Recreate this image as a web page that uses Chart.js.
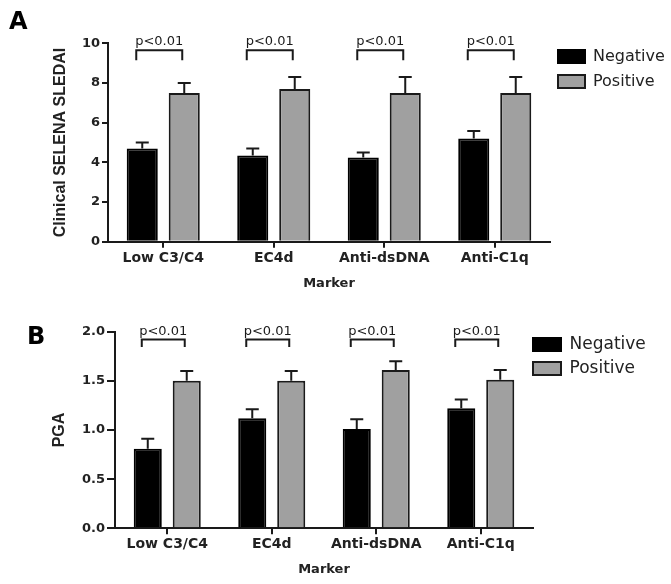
<!DOCTYPE html>
<html>
<head>
<meta charset="utf-8">
<script src="https://cdn.jsdelivr.net/npm/chart.js@4.4.0/dist/chart.umd.min.js"></script>
<style>
  body { margin: 0; background: #fff; }
  .panel { position: absolute; left: 0; width: 671px; height: 292px; }
  #panelA { top: 0; }
  #panelB { top: 292px; }
</style>
</head>
<body>
<div class="panel" id="panelA"><canvas id="chartA"></canvas></div>
<div class="panel" id="panelB"><canvas id="chartB"></canvas></div>
<script>
const markers = ['Low C3/C4', 'EC4d', 'Anti-dsDNA', 'Anti-C1q'];
const seriesNames = ['Negative', 'Positive'];
const pValues = ['p<0.01', 'p<0.01', 'p<0.01', 'p<0.01'];

// Panel A - clinical SELENA SLEDAI, mean + SEM
const sledaiNegative = [4.7, 4.35, 4.25, 5.2];
const sledaiNegativeErr = [0.3, 0.35, 0.25, 0.38];
const sledaiPositive = [7.5, 7.7, 7.5, 7.5];
const sledaiPositiveErr = [0.5, 0.6, 0.8, 0.8];
const sledaiTicks = [0, 2, 4, 6, 8, 10];

// Panel B - PGA, mean + SEM
const pgaNegative = [0.81, 1.12, 1.01, 1.22];
const pgaNegativeErr = [0.1, 0.09, 0.1, 0.09];
const pgaPositive = [1.5, 1.5, 1.61, 1.51];
const pgaPositiveErr = [0.1, 0.1, 0.09, 0.1];
const pgaTicks = [0, 0.5, 1.0, 1.5, 2.0];

const INK = '#1a1a1a';

// upper error bars only, like the prism plot
const errorBars = {
  id: 'errorBars',
  afterDatasetsDraw(chart, args, opts) {
    const ctx = chart.ctx;
    const y = chart.scales.y;
    ctx.save();
    ctx.strokeStyle = INK;
    ctx.lineWidth = 2;
    chart.data.datasets.forEach((ds, d) => {
      chart.getDatasetMeta(d).data.forEach((bar, i) => {
        const top = y.getPixelForValue(ds.data[i] + ds.errors[i]);
        ctx.beginPath();
        ctx.moveTo(bar.x, bar.y);
        ctx.lineTo(bar.x, top);
        ctx.moveTo(bar.x - opts.cap / 2, top);
        ctx.lineTo(bar.x + opts.cap / 2, top);
        ctx.stroke();
      });
    });
    ctx.restore();
  }
};

// significance brackets over each pair
const brackets = {
  id: 'brackets',
  afterDraw(chart, args, opts) {
    const ctx = chart.ctx;
    const y = chart.scales.y;
    const neg = chart.getDatasetMeta(0).data;
    const pos = chart.getDatasetMeta(1).data;
    const yb = y.getPixelForValue(opts.level);
    const yl = y.getPixelForValue(opts.leg);
    ctx.save();
    ctx.strokeStyle = INK;
    ctx.fillStyle = INK;
    ctx.lineWidth = 2;
    ctx.font = '13px "DejaVu Sans"';
    ctx.textAlign = 'center';
    ctx.textBaseline = 'alphabetic';
    pValues.forEach((t, i) => {
      const x1 = neg[i].x - 6, x2 = pos[i].x - 2;
      ctx.beginPath();
      ctx.moveTo(x1, yl);
      ctx.lineTo(x1, yb);
      ctx.lineTo(x2, yb);
      ctx.lineTo(x2, yl);
      ctx.stroke();
      ctx.fillText(t, (x1 + x2) / 2, yb - 5);
    });
    ctx.restore();
  }
};

const panelLetter = {
  id: 'panelLetter',
  afterDraw(chart, args, opts) {
    const ctx = chart.ctx;
    ctx.save();
    ctx.fillStyle = '#000';
    ctx.font = 'bold 24px "DejaVu Sans"';
    ctx.textBaseline = 'alphabetic';
    ctx.fillText(opts.text, opts.x, opts.y);
    ctx.restore();
  }
};

// nudge the legend block into place, and widen its clip box to the canvas edge
const legendShift = {
  id: 'legendShift',
  afterLayout(chart, args, opts) {
    const l = chart.legend;
    l.left += opts.dx;
    l.right = chart.width;
    l.width = l.right - l.left;
    l.top += opts.dy; l.bottom += opts.dy;
  }
};

function makePanel(id, p) {
  return new Chart(document.getElementById(id), {
    type: 'bar',
    data: {
      labels: markers,
      datasets: [
        { label: seriesNames[0], data: p.neg, errors: p.negErr, backgroundColor: '#000', borderColor: '#000', borderWidth: 2 },
        { label: seriesNames[1], data: p.pos, errors: p.posErr, backgroundColor: '#a0a0a0', borderColor: INK, borderWidth: 2 }
      ]
    },
    plugins: [errorBars, brackets, panelLetter, legendShift],
    options: {
      responsive: true,
      maintainAspectRatio: false,
      animation: false,
      categoryPercentage: p.cp,
      barPercentage: p.bp,
      layout: { padding: { top: p.top, right: p.padR, bottom: 0, left: 0 } },
      scales: {
        x: {
          grid: { offset: false, drawOnChartArea: false, tickLength: 6, color: INK, lineWidth: 2 },
          border: { color: INK, width: 2 },
          ticks: { color: '#222', padding: 2, font: { family: 'DejaVu Sans', weight: 'bold', size: 14 } },
          title: {
            display: true, text: 'Marker', color: '#222',
            font: { family: 'DejaVu Sans', weight: 'bold', size: 13 },
            padding: { top: 0, bottom: p.xTitlePad }
          },
          afterFit: s => { s.height = p.xHeight; }
        },
        y: {
          min: 0,
          max: p.ticks[p.ticks.length - 1],
          afterBuildTicks: s => { s.ticks = p.ticks.map(v => ({ value: v })); },
          grid: { drawOnChartArea: false, tickLength: p.tickLen, color: INK, lineWidth: 2 },
          border: { color: INK, width: 2 },
          ticks: {
            color: '#222', padding: 2,
            font: { family: 'DejaVu Sans', weight: 'bold', size: 13 },
            callback: p.fmt
          },
          title: {
            display: true, text: p.yTitle, color: '#222',
            font: { family: 'Liberation Sans', weight: 'bold', size: 16 },
            padding: { top: p.yTitlePad, bottom: 0 }
          },
          afterFit: s => { s.width = p.left; }
        }
      },
      plugins: {
        tooltip: { enabled: false },
        legend: {
          position: 'right',
          align: 'start',
          fullSize: false,
          maxWidth: 110,
          labels: {
            color: '#222',
            boxWidth: p.boxW,
            boxHeight: 13,
            padding: p.legPad,
            font: { family: 'DejaVu Sans', size: p.legFont }
          }
        },
        errorBars: { cap: 13 },
        brackets: { level: p.bracket, leg: p.bracketLeg },
        panelLetter: { text: p.letter, x: p.letterX, y: p.letterY },
        legendShift: { dx: p.legDx, dy: p.legDy }
      }
    }
  });
}

makePanel('chartA', {
  neg: sledaiNegative, negErr: sledaiNegativeErr,
  pos: sledaiPositive, posErr: sledaiPositiveErr,
  ticks: sledaiTicks, fmt: v => v,
  yTitle: 'Clinical SELENA SLEDAI',
  cp: 0.76, bp: 0.74,
  top: 43.3, padR: 11, left: 108, xHeight: 50.3, xTitlePad: 0.7,
  tickLen: 6, yTitlePad: 51.4,
  boxW: 27, legPad: 9, legFont: 16, legDx: -1, legDy: -3.8,
  bracket: 9.65, bracketLeg: 9.15,
  letter: 'A', letterX: 9, letterY: 29
});

makePanel('chartB', {
  neg: pgaNegative, negErr: pgaNegativeErr,
  pos: pgaPositive, posErr: pgaPositiveErr,
  ticks: pgaTicks, fmt: v => v.toFixed(1),
  yTitle: 'PGA',
  cp: 0.746, bp: 0.72,
  top: 39.7, padR: 28, left: 115, xHeight: 55.7, xTitlePad: 6.2,
  tickLen: 8, yTitlePad: 50.4,
  boxW: 28, legPad: 7, legFont: 17, legDx: -7, legDy: -2.7,
  bracket: 1.92, bracketLeg: 1.845,
  letter: 'B', letterX: 27, letterY: 52
});
</script>
</body>
</html>
